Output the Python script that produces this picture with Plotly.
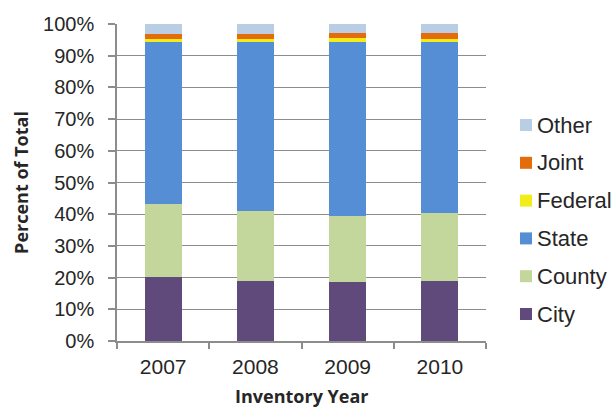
import plotly.graph_objects as go

# Inventory years and share of total (percent) by owner type
years = ["2007", "2008", "2009", "2010"]
city = [20.3, 18.9, 18.7, 19.0]
county = [23.0, 22.1, 20.8, 21.4]
state = [50.9, 53.4, 54.9, 54.0]
federal = [1.0, 0.9, 1.1, 1.0]
joint = [1.6, 1.5, 1.7, 1.8]
other = [3.2, 3.2, 2.8, 2.8]

series = [
    ("City", city, "#604A7B"),
    ("County", county, "#C3D69B"),
    ("State", state, "#558ED5"),
    ("Federal", federal, "#F2EC1A"),
    ("Joint", joint, "#E46C0A"),
    ("Other", other, "#B9CDE5"),
]

y_ticks = list(range(0, 101, 10))
y_tick_text = [f"{v}%" for v in y_ticks]

# Plot area geometry (pixels)
W, H = 611, 409
L, R, T, B = 117, 125, 24, 68
pw, ph = W - L - R, H - T - B


def px_x(px):
    return (px - L) / pw


def px_y(py):
    return (H - B - py) / ph


fig = go.Figure()
for name, vals, color in series:
    fig.add_trace(go.Bar(
        x=years, y=vals, name=name,
        marker=dict(color=color, line=dict(width=0)),
        width=0.4,
    ))

# Legend drawn as swatches + labels to the right of the plot (Other on top)
shapes, annotations = [], []
for i, (name, _, color) in enumerate(reversed(series)):
    cy = 125 + i * 37.8
    shapes.append(dict(
        type="rect", xref="paper", yref="paper",
        x0=px_x(520), x1=px_x(532), y0=px_y(cy + 6), y1=px_y(cy - 6),
        fillcolor=color, line=dict(width=0),
    ))
    annotations.append(dict(
        xref="paper", yref="paper", x=px_x(535), y=px_y(cy),
        xanchor="left", yanchor="middle", showarrow=False,
        text=name, font=dict(size=22, color="#262626"),
    ))

# x-axis title placed low, near the bottom edge of the canvas
annotations.append(dict(
    xref="paper", yref="paper", x=0.5, y=px_y(396),
    xanchor="center", yanchor="middle", showarrow=False,
    text="<b>Inventory Year</b>",
    font=dict(family="Open Sans, sans-serif", size=18, color="#262626"),
))

fig.update_layout(
    barmode="stack",
    width=W, height=H,
    margin=dict(l=L, r=R, t=T, b=B, autoexpand=False),
    paper_bgcolor="white", plot_bgcolor="white",
    font=dict(family="Liberation Sans, Arial, sans-serif", color="#262626"),
    showlegend=False,
    shapes=shapes,
    annotations=annotations,
    xaxis=dict(
        type="category",
        showline=True, linecolor="#8C8C8C", linewidth=2,
        ticks="outside", tickson="boundaries", ticklen=6,
        tickcolor="#8C8C8C", tickwidth=1.5,
        tickfont=dict(size=21),
        ticklabelstandoff=6,
        showgrid=False,
    ),
    yaxis=dict(
        range=[0, 100],
        tickvals=y_ticks, ticktext=y_tick_text,
        showline=True, linecolor="#8C8C8C", linewidth=1.5,
        ticks="outside", ticklen=7, tickcolor="#8C8C8C", tickwidth=1.5,
        tickfont=dict(size=20),
        ticklabelstandoff=10,
        showgrid=True, gridcolor="#8C8C8C", gridwidth=1.3,
        zeroline=False,
        title=dict(text="Percent of Total", standoff=10,
                   font=dict(family="Open Sans, sans-serif", size=18, color="#262626", weight="bold")),
    ),
)

fig.write_html("out.html")
